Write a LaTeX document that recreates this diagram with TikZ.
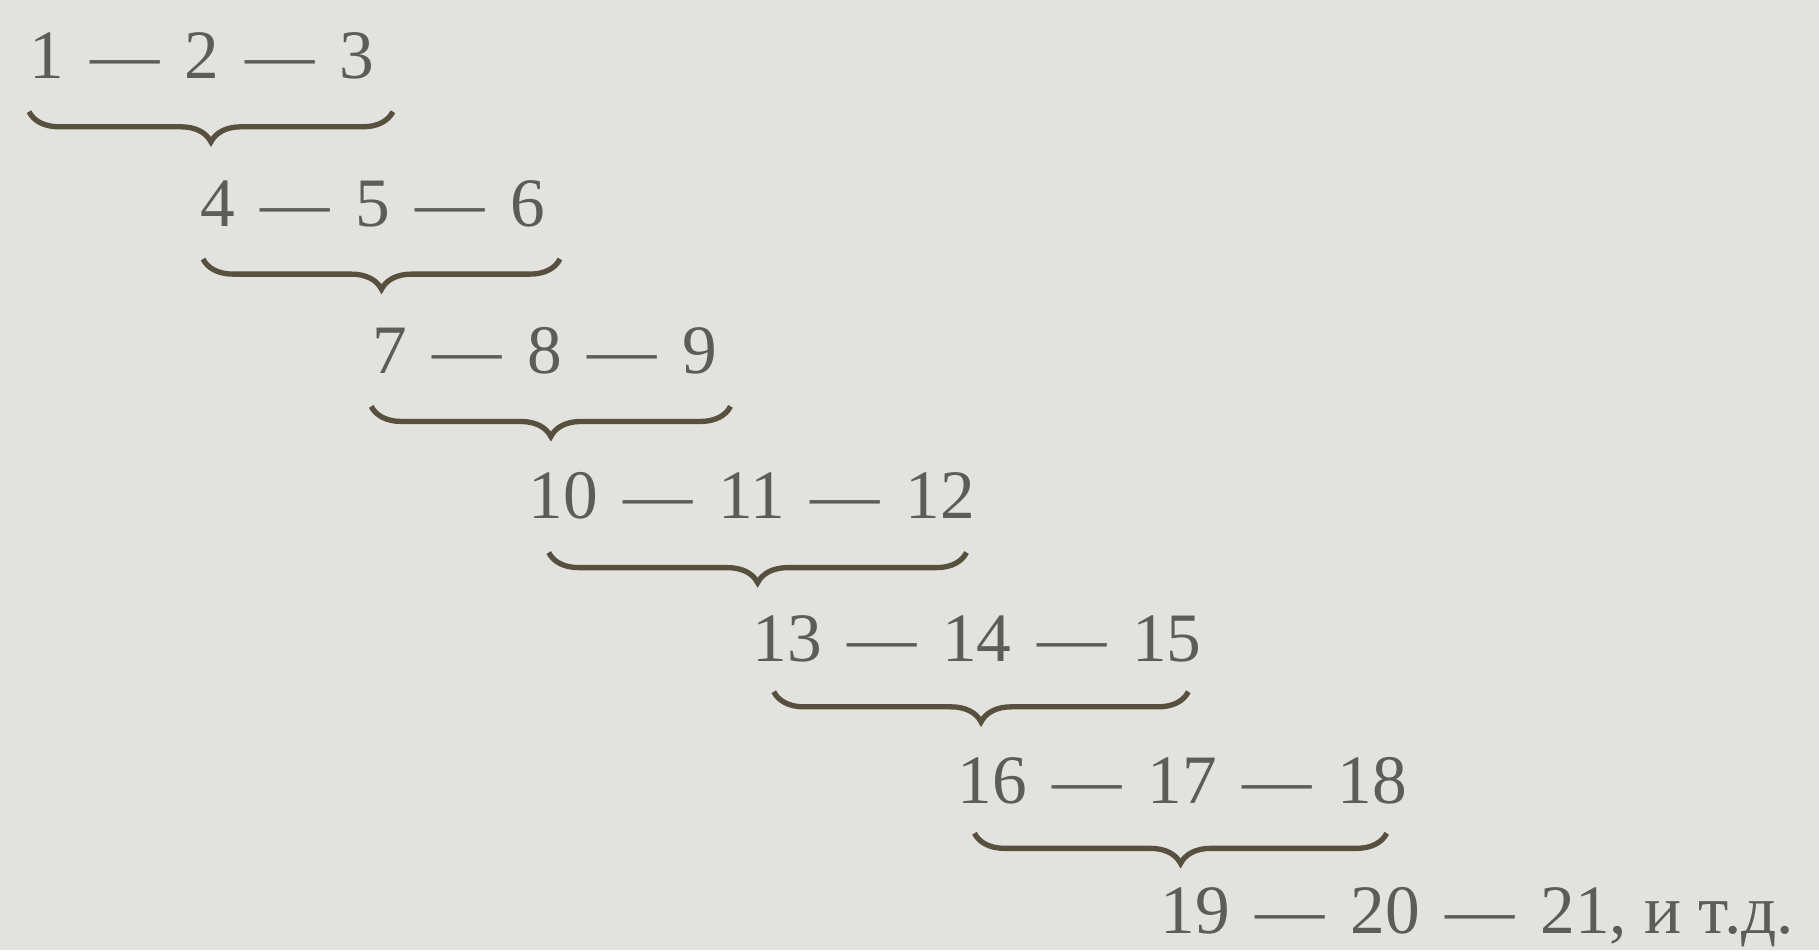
\documentclass[tikz,border=0pt]{standalone}
\usepackage{fontspec}
\setmainfont{Liberation Serif}
\usetikzlibrary{decorations.pathreplacing, calc}
\definecolor{paper}{RGB}{226,226,223}
\definecolor{ink}{RGB}{92,92,89}
\definecolor{braceink}{RGB}{88,80,62}
\newcommand{\dsh}{\hspace{0.22cm}—\hspace{0.22cm}}

\begin{document}
\begin{tikzpicture}[x=0.01cm, y=-0.01cm,
  row/.style={anchor=base west, inner sep=0pt, text=ink, font=\fontsize{17}{20}\selectfont},
  brc/.style={draw=braceink, line width=1.3pt, decorate,
              decoration={brace, mirror, amplitude=0.26cm}},
]
  \fill[paper] (0,0) rectangle (1568,819);
  \useasboundingbox (0,0) rectangle (1568,819);

  % the staircase of triples
  \node[row] (r1) at (25,68)   {1\dsh 2\dsh 3};
  \node[row] (r2) at (172,195) {4\dsh 5\dsh 6};
  \node[row] (r3) at (320,322) {7\dsh 8\dsh 9};
  \node[row] (r4) at (455,447) {10\dsh 11\dsh 12};
  \node[row] (r5) at (648,570) {13\dsh 14\dsh 15};
  \node[row] (r6) at (825,693) {16\dsh 17\dsh 18};
  \node[row] (r7) at (1000,805) {19\dsh 20\dsh 21, и т.д.};

  % braces under each row
  \draw[brc] ([yshift=-0.27cm]r1.south west) -- ([xshift=0.15cm, yshift=-0.27cm]r1.south east);
  \draw[brc] ([xshift=0.03cm, yshift=-0.27cm]r2.south west) -- ([xshift=0.12cm, yshift=-0.27cm]r2.south east);
  \draw[brc] ([yshift=-0.27cm]r3.south west) -- ([xshift=0.11cm, yshift=-0.27cm]r3.south east);
  \draw[brc] ([xshift=0.18cm, yshift=-0.28cm]r4.south west) -- ([xshift=-0.08cm, yshift=-0.28cm]r4.south east);
  \draw[brc] ([xshift=0.19cm, yshift=-0.25cm]r5.south west) -- ([xshift=-0.12cm, yshift=-0.25cm]r5.south east);
  \draw[brc] ([xshift=0.15cm, yshift=-0.24cm]r6.south west) -- ([xshift=-0.18cm, yshift=-0.24cm]r6.south east);
\end{tikzpicture}
\end{document}
